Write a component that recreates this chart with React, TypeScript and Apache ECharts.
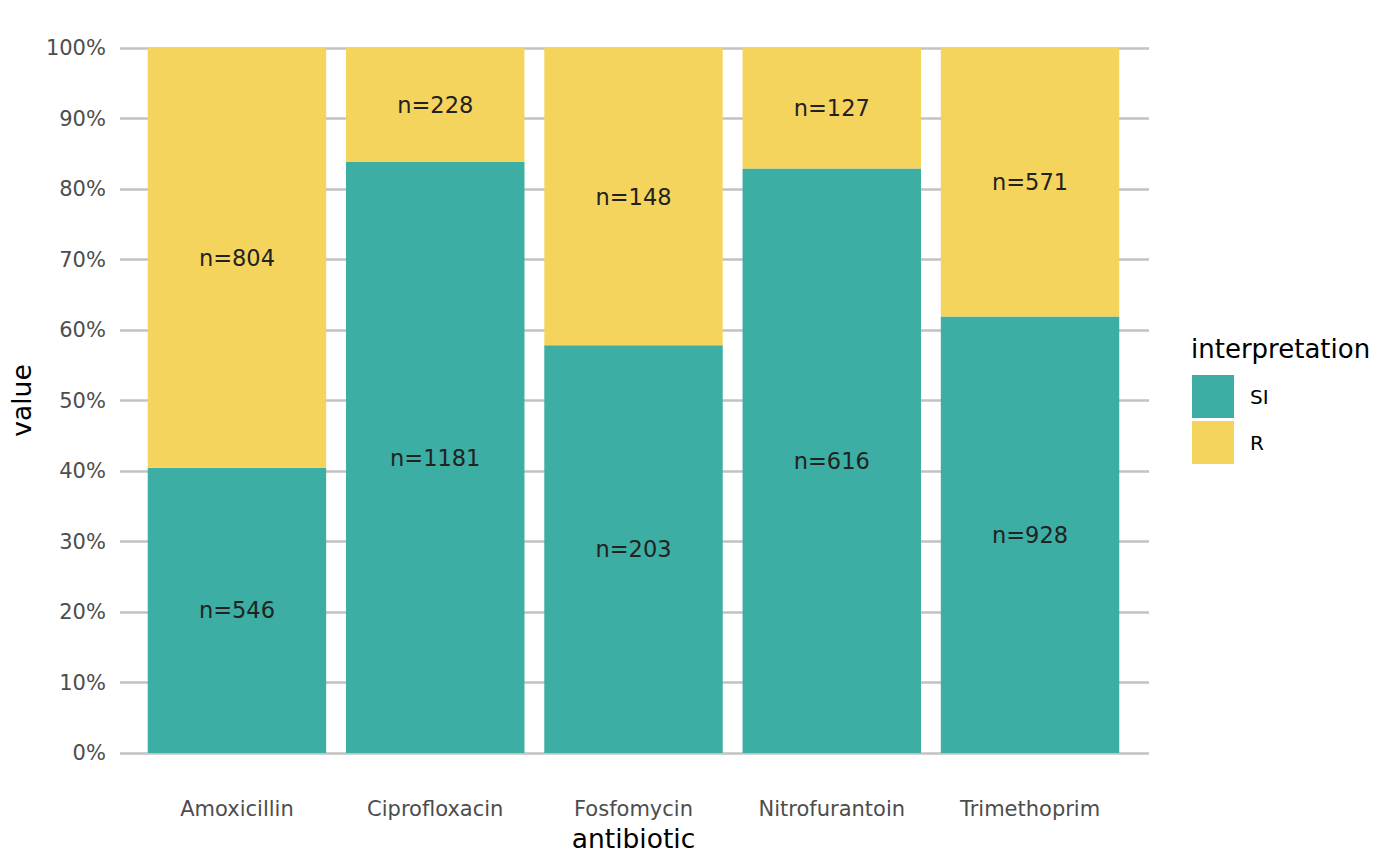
import React, { useEffect, useRef } from "react";
import * as echarts from "echarts";

const categories = ["Amoxicillin", "Ciprofloxacin", "Fosfomycin", "Nitrofurantoin", "Trimethoprim"];
const countSI = [546, 1181, 203, 616, 928];
const countR = [804, 228, 148, 127, 571];
const seriesNames = ["SI", "R"];
const seriesColors = ["#3CAEA3", "#F4D45C"];

const W = 1400;
const H = 866;
const GRID = { left: 118, right: 251, top: 48, bottom: 113 };
const FONT = "DejaVu Sans";

export default function App() {
  const ref = useRef<HTMLDivElement>(null);
  useEffect(() => {
    document.body.style.margin = "0";
    if (!ref.current) return;
    const chart = echarts.init(ref.current, undefined, { renderer: "svg" });
    const totals = categories.map((_, i) => countSI[i] + countR[i]);
    const plotW = W - GRID.left - GRID.right;
    const unit = plotW / (categories.length - 1 + 1.2);
    const innerLeft = GRID.left + 0.1 * unit;
    const innerWidth = categories.length * unit;
    const innerRight = W - innerLeft - innerWidth;
    const counts = [countSI, countR];
    const series = counts.map((arr, s) => ({
      name: seriesNames[s],
      type: "bar",
      stack: "total",
      xAxisIndex: 1,
      yAxisIndex: 1,
      barWidth: "90%",
      itemStyle: { color: seriesColors[s] },
      label: {
        show: true,
        position: "inside",
        fontFamily: FONT,
        fontSize: 22.5,
        color: "#222222",
        formatter: (p: any) => "n=" + arr[p.dataIndex],
      },
      data: arr.map((v, i) => v / totals[i]),
    }));
    chart.setOption({
      animation: false,
      textStyle: { fontFamily: FONT },
      grid: [
        { ...GRID, containLabel: false },
        { left: innerLeft, right: innerRight, top: GRID.top, bottom: GRID.bottom, containLabel: false },
      ],
      legend: {
        orient: "vertical",
        left: 1192,
        top: 375,
        itemWidth: 42,
        itemHeight: 43,
        itemGap: 3,
        padding: 0,
        icon: "rect",
        data: seriesNames,
        textStyle: { fontFamily: FONT, fontSize: 20, color: "#000", padding: [0, 0, 0, 11] },
      },
      graphic: [
        {
          type: "text",
          left: 1191,
          top: 336,
          style: { text: "interpretation", font: `26px '${FONT}'`, fill: "#000" },
        },
      ],
      xAxis: [
        {
          type: "value",
          gridIndex: 0,
          min: 0,
          max: 1,
          show: false,
        },
        {
          type: "category",
          gridIndex: 1,
          data: categories,
          boundaryGap: true,
          name: "antibiotic",
          nameLocation: "middle",
          nameGap: 72,
          nameTextStyle: { fontFamily: FONT, fontSize: 26.5, color: "#000" },
          axisLine: { show: false },
          axisTick: { show: false },
          splitLine: { show: false },
          axisLabel: {
            fontFamily: FONT,
            fontSize: 21,
            color: "#4D4D4D",
            margin: 45,
          },
        },
      ],
      yAxis: [
        {
          type: "value",
          gridIndex: 0,
          min: 0,
          max: 1,
          interval: 0.1,
          name: "value",
          nameLocation: "middle",
          nameGap: 80,
          nameTextStyle: { fontFamily: FONT, fontSize: 26.5, color: "#000" },
          axisLine: { show: false },
          axisTick: { show: false },
          splitLine: { show: true, lineStyle: { color: "#C2C2C2", width: 2.5 } },
          axisLabel: {
            fontFamily: FONT,
            fontSize: 21,
            color: "#4D4D4D",
            margin: 14,
            formatter: (v: number) => Math.round(v * 100) + "%",
          },
        },
        {
          type: "value",
          gridIndex: 1,
          min: 0,
          max: 1,
          show: false,
        },
      ],
      series,
    });
    return () => chart.dispose();
  }, []);
  return <div ref={ref} style={{ width: W, height: H }} />;
}
